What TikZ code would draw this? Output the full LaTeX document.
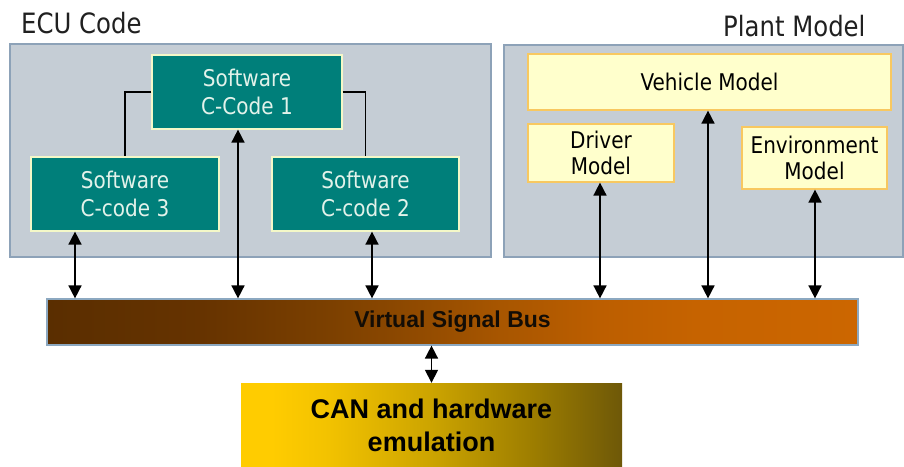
\documentclass[tikz,border=0pt]{standalone}
\usepackage{fontspec}
\setmainfont{DejaVu Sans}[FakeStretch=0.87]
\newfontfamily\boldsans{Liberation Sans}
\usetikzlibrary{arrows.meta,calc}

% palette
\definecolor{panelfill}{HTML}{C5CDD5}
\definecolor{panelline}{HTML}{8DA2B8}
\definecolor{tealfill}{HTML}{007F7A}
\definecolor{tealline}{HTML}{F4F8C8}
\definecolor{tealtext}{HTML}{E2F2EA}
\definecolor{modelfill}{HTML}{FFFFCC}
\definecolor{modelline}{HTML}{F8C860}
\definecolor{titletext}{HTML}{202020}
\definecolor{busline}{HTML}{8CA8C0}
\definecolor{busA}{HTML}{5A2E00}
\definecolor{busB}{HTML}{663300}
\definecolor{busC}{HTML}{7C4000}
\definecolor{busD}{HTML}{8C4800}
\definecolor{busE}{HTML}{A85600}
\definecolor{busF}{HTML}{BC5E00}
\definecolor{busG}{HTML}{C66300}
\definecolor{busH}{HTML}{CC6600}
\definecolor{canA}{HTML}{FFCC00}
\definecolor{canB}{HTML}{F2C200}
\definecolor{canC}{HTML}{CCA400}
\definecolor{canD}{HTML}{9E7E00}
\definecolor{canE}{HTML}{6E5808}

% left-to-right colour runs of the bus bar and the CAN block
\pgfdeclarehorizontalshading{busshade}{100bp}{color(0bp)=(busA); color(25bp)=(busA);
  color(34.5bp)=(busB); color(42.5bp)=(busC); color(46.7bp)=(busD); color(53bp)=(busE);
  color(59bp)=(busF); color(65bp)=(busG); color(75bp)=(busH); color(100bp)=(busH)}
\pgfdeclarehorizontalshading{canshade}{100bp}{color(0bp)=(canA); color(25bp)=(canA);
  color(29bp)=(canA); color(36.5bp)=(canB); color(50bp)=(canC); color(63bp)=(canD);
  color(75bp)=(canE); color(100bp)=(canE)}

\tikzset{
  panel/.style={draw=panelline, fill=panelfill, line width=1.2pt},
  swbox/.style={draw=tealline, fill=tealfill, line width=1.2pt, inner sep=0pt,
    text=tealtext, align=center, font=\fontsize{23}{28}\selectfont},
  modelbox/.style={draw=modelline, fill=modelfill, line width=1.2pt, inner sep=0pt,
    text=black, align=center, font=\fontsize{23}{26}\selectfont},
  titlelabel/.style={anchor=base west, inner sep=0pt, text=titletext,
    font=\fontsize{28}{32}\selectfont},
  biarrow/.style={{Triangle[width=13pt,length=13pt]}-{Triangle[width=13pt,length=13pt]},
    line width=1.6pt, black},
  link/.style={line width=1.3pt, black},
}

\begin{document}
\begin{tikzpicture}[x=1pt,y=-1pt]
\useasboundingbox (0,0) rectangle (904,466);
\fill[white] (0,0) rectangle (904,466);

% the two panels
\draw[panel] (10,44) rectangle (491,257);
\draw[panel] (504,45) rectangle (903,257);
\node[titlelabel] (ecutitle) at (21,33) {ECU Code};
\node[titlelabel] (planttitle) at (723,36) {Plant Model};

% ECU software blocks
\node[swbox, minimum width=190pt, minimum height=74pt] (c1) at (247,92) {Software\\C-Code 1};
\node[swbox, minimum width=188pt, minimum height=74pt] (c3) at (125,194) {Software\\C-code 3};
\node[swbox, minimum width=187pt, minimum height=74pt] (c2) at (365.5,194) {Software\\C-code 2};
\draw[link] (c1.west) -| (c3.north);
\draw[link] (c1.east) -| (c2.north);

% plant model blocks
\node[modelbox, minimum width=363pt, minimum height=56pt] (vehicle) at (709.5,82) {Vehicle Model};
\node[modelbox, minimum width=146pt, minimum height=58pt] (driver) at (601,153) {Driver\\Model};
\node[modelbox, minimum width=145pt, minimum height=62pt] (env) at (814.5,158) {Environment\\Model};

% signal bus
\node[draw=busline, line width=1.2pt, shading=busshade, minimum width=811pt,
  minimum height=46pt, inner sep=0pt, text=black!90!brown,
  font=\boldsans\bfseries\fontsize{23}{27}\selectfont] (bus) at (452.5,322) {Virtual Signal Bus};

% CAN / hardware emulation block
\node[shading=canshade, minimum width=381pt, minimum height=84pt, inner sep=0pt,
  align=center, text=black,
  font=\boldsans\bfseries\fontsize{27}{33}\selectfont] (can) at (431.5,425) {CAN and hardware\\emulation};

% bus connections
\draw[biarrow] ([xshift=-50pt]c3.south) -- ([xshift=-50pt]c3.south |- bus.north);
\draw[biarrow] ([xshift=-9pt]c1.south) -- ([xshift=-9pt]c1.south |- bus.north);
\draw[biarrow] ([xshift=6.5pt]c2.south) -- ([xshift=6.5pt]c2.south |- bus.north);
\draw[biarrow] ([xshift=-1pt]driver.south) -- ([xshift=-1pt]driver.south |- bus.north);
\draw[biarrow] ([xshift=-1.5pt]vehicle.south) -- ([xshift=-1.5pt]vehicle.south |- bus.north);
\draw[biarrow] ([xshift=0.5pt]env.south) -- ([xshift=0.5pt]env.south |- bus.north);
\draw[biarrow] (can.north) -- (can.north |- bus.south);
\end{tikzpicture}
\end{document}
